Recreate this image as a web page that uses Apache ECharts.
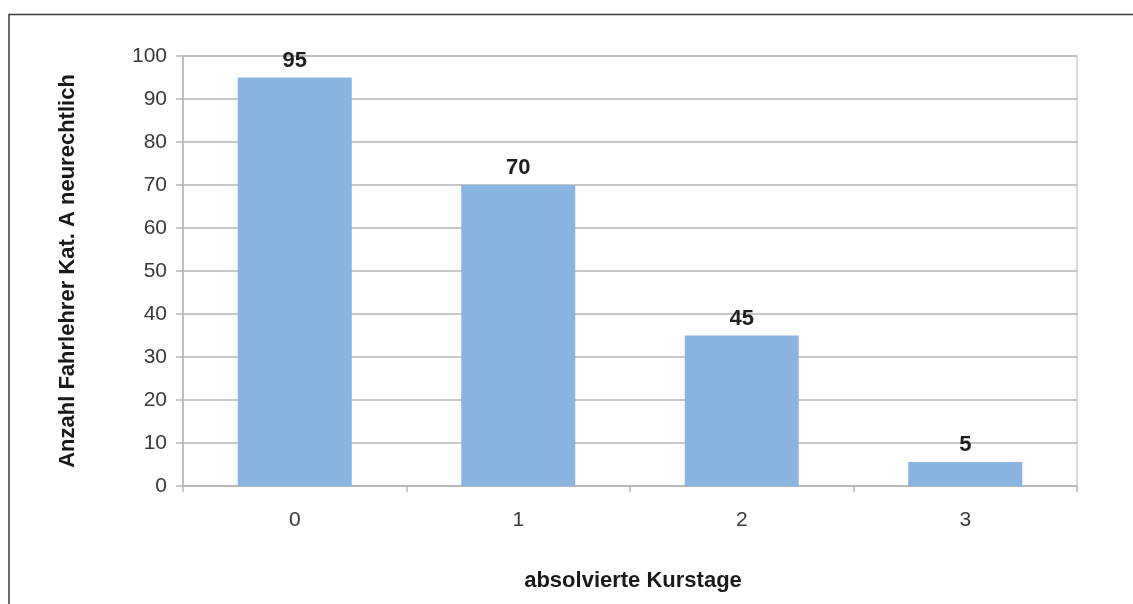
<!DOCTYPE html>
<html>
<head>
<meta charset="utf-8">
<script src="https://cdn.jsdelivr.net/npm/echarts@6/dist/echarts.min.js"></script>
<style>
  html, body { margin: 0; padding: 0; background: #fff; }
  #chart { width: 1133px; height: 604px; }
</style>
</head>
<body>
<div id="chart"></div>
<script>
// Kurstage (Kategorien) und Balkenwerte
var kurstage = ["0", "1", "2", "3"];
var anzahlWerte = [95, 70, 35, 5.6];
// Beschriftungen wie im Original (weichen teils von der Balkenhöhe ab)
var balkenLabels = ["95", "70", "45", "5"];

var fontFam = "'Liberation Sans', Arial, Helvetica, sans-serif";

var myChart = echarts.init(document.getElementById("chart"));

var option = {
	animation: false,
	backgroundColor: "#ffffff",
	grid: {
		left: 183,
		right: 56,
		top: 56,
		bottom: 118,
		show: true,
		borderColor: "#b5b5b5",
		borderWidth: 1
	},
	// Rahmen oben und links
	graphic: [{
		type: "polyline",
		shape: { points: [[9, 604], [9, 14.5], [1133, 14.5]] },
		style: { stroke: "#3a3a3a", lineWidth: 1.5, fill: null },
		silent: true
	}],
	xAxis: {
		type: "category",
		data: kurstage,
		name: "absolvierte Kurstage",
		nameLocation: "middle",
		nameGap: 84,
		nameTextStyle: { fontFamily: fontFam, fontSize: 22, fontWeight: "bold", color: "#1a1a1a", padding: [0, 0, 0, 6] },
		axisLine: { lineStyle: { color: "#b5b5b5", width: 1.5 } },
		axisTick: { show: true, length: 6, lineStyle: { color: "#b5b5b5", width: 1.5 } },
		axisLabel: { margin: 24, fontFamily: fontFam, fontSize: 21, color: "#3a3a3a" }
	},
	yAxis: {
		type: "value",
		min: 0,
		max: 100,
		interval: 10,
		name: "Anzahl Fahrlehrer Kat. A neurechtlich",
		nameLocation: "middle",
		nameGap: 104,
		nameTextStyle: { fontFamily: fontFam, fontSize: 22, fontWeight: "bold", color: "#1a1a1a" },
		axisLine: { show: true, lineStyle: { color: "#b5b5b5", width: 1.5 } },
		axisTick: { show: true, length: 7, lineStyle: { color: "#b5b5b5", width: 1.5 } },
		axisLabel: { margin: 16, fontFamily: fontFam, fontSize: 21, color: "#3a3a3a" },
		splitLine: { lineStyle: { color: "#b5b5b5", width: 1.5 } }
	},
	series: [{
		type: "bar",
		data: anzahlWerte,
		barWidth: 114,
		itemStyle: { color: "#8ab4e0" },
		label: {
			show: true,
			position: "top",
			distance: 6,
			fontFamily: fontFam,
			fontSize: 22,
			fontWeight: "bold",
			color: "#1f1f1f",
			formatter: function(p) {
				return balkenLabels[p.dataIndex];
			}
		}
	}]
};

myChart.setOption(option);
</script>
</body>
</html>
